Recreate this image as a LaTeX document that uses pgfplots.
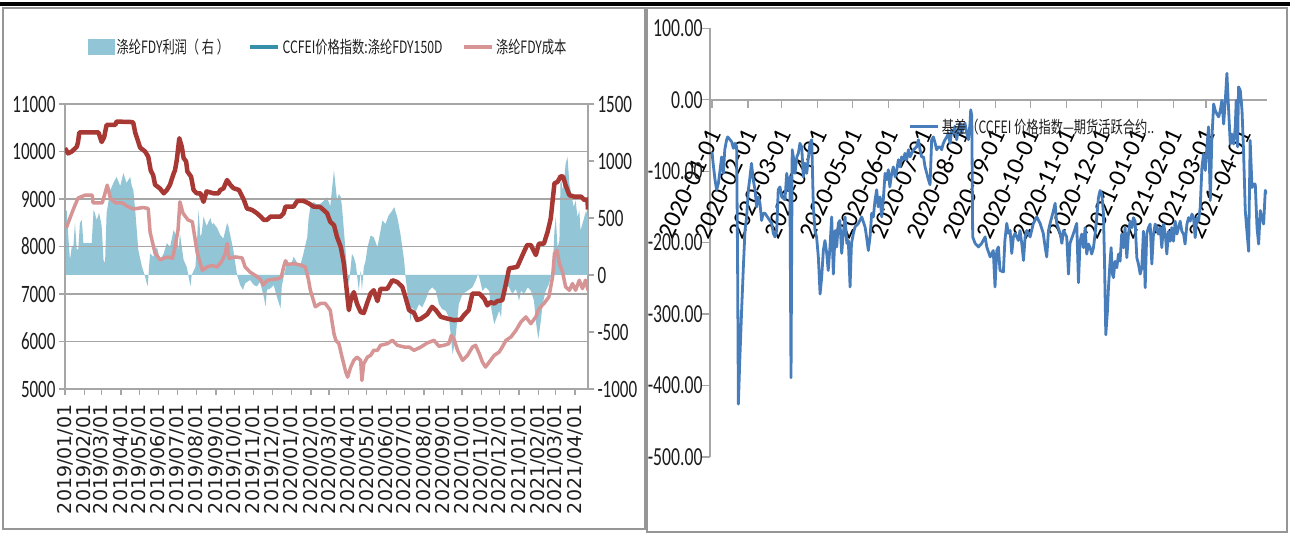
\documentclass[border=0pt]{standalone}
\usepackage{fontspec}
\usepackage{pgfplots}
\pgfplotsset{compat=1.18}
\newfontfamily\numfont{Carlito}[FakeStretch=0.68]
\newfontfamily\datefont{DejaVu Sans}
\newfontfamily\rdatefont{Carlito}
\newfontfamily\cjk{Noto Sans CJK SC}[FakeStretch=0.72]
\definecolor{areablue}{RGB}{146,197,214}
\definecolor{pricered}{RGB}{168,56,52}
\definecolor{costpink}{RGB}{214,148,148}
\definecolor{legteal}{RGB}{56,143,170}
\definecolor{basisblue}{RGB}{72,125,188}
\definecolor{gridgray}{RGB}{166,166,166}
\definecolor{framegray}{RGB}{150,150,150}
\definecolor{txt}{RGB}{30,30,30}
\pgfplotsset{
 rectlegend/.style={legend image code/.code={\fill[##1] (0pt,-7.5pt) rectangle (26pt,7.5pt);}},
 linelegend/.style={legend image code/.code={\draw[##1] (0pt,0pt) -- (28pt,0pt);}},
}
\begin{document}
\begin{tikzpicture}
\useasboundingbox (0pt,0pt) rectangle (1290pt,534pt);
\fill[white] (0pt,0pt) rectangle (1290pt,534pt);
\draw[black, line width=3.5pt] (0pt,530pt) -- (1290pt,530pt);
\draw[framegray, line width=1.5pt] (3pt,5pt) rectangle (645pt,526pt);
\draw[framegray, line width=1.5pt] (647pt,2pt) rectangle (1287pt,526pt);

% ---------- left chart: profit area (right axis)
\begin{axis}[
 at={(65pt,145pt)}, anchor=south west, scale only axis, width=523pt, height=285pt,
 xmin=0, xmax=842, ymin=-1000, ymax=1500,
 axis x line=none, axis y line*=right,
 ytick={-1000,-500,...,1500}, scaled y ticks=false,
 axis line style={-, draw=gridgray, line width=1.3pt},
 tick style={draw=gridgray, line width=1.2pt}, tick align=outside, major tick length=6pt,
 y tick label style={font=\numfont\fontsize{25}{28}\selectfont, text=txt},
 /pgf/number format/assume math mode=true,
 /pgf/number format/set thousands separator={},
]
\addplot[fill=areablue, draw=none] table[row sep=\\] {
d v\\
0 0\\0 544\\2.7 570\\5.4 333\\8 131\\10.8 245\\13.4 245\\16 456\\19 219\\21.5 230\\24 456\\27 482\\29.6 280\\43 280\\46 570\\48 544\\51 482\\55 544\\59 430\\62 131\\64.5 105\\67 544\\73 745\\78 807\\83 860\\89 780\\94 895\\99 807\\105 860\\107.5 780\\110 745\\113 570\\118 219\\124 70\\129 -15\\133 -100\\134.4 0\\137 190\\142 160\\148 245\\153 131\\159 190\\164 280\\169 245\\175 395\\180 333\\183 219\\185 365\\188 245\\191 131\\196 70\\199 -15\\202 -100\\204 0\\210 70\\212 245\\215 570\\218 333\\220 365\\223 512\\228 430\\234 500\\237 440\\239 456\\245 412\\250 350\\255 320\\261 456\\263 430\\266 350\\271 219\\277 0\\282 -88\\286.5 -130\\290 -73\\298 -44\\304 -88\\309 -100\\314 -60\\320 -190\\323 -278\\325 -130\\331 -117\\336 -88\\341 -190\\347 -292\\349 -100\\352 -15\\358 131\\363 70\\368 160\\374 105\\379 88\\384 190\\390 333\\392 482\\395 600\\400 640\\405 620\\411 624\\417 654\\422 683\\427 600\\433 917\\438 654\\441 712\\444 683\\446 595\\449 390\\452 185\\454 38\\457 -79\\460 67\\462 185\\465 155\\468 97\\470 9\\473 -138\\476 38\\478 -138\\481 67\\484 126\\487 243\\492 346\\497 331\\503 243\\508 390\\511 478\\516 448\\521 522\\527 566\\530 595\\535 507\\540 360\\546 126\\548 -6\\551 -138\\554 -284\\556 -402\\559 -284\\564 -328\\570 -255\\575 -284\\580 -226\\586 -138\\591 -108\\597 -138\\602 -255\\607 -299\\613 -314\\618 -372\\621 -519\\624 -695\\626 -636\\629 -533\\632 -372\\634 -255\\640 -167\\648 -138\\656 -108\\661 -50\\665 9\\667 -20\\672 -138\\677 -108\\683 -138\\685 -255\\691 -431\\693 -402\\699 -314\\702 -372\\704 -196\\710 -79\\715 -108\\720 -167\\726 -123\\731 -226\\734 -138\\739 -167\\745 -108\\750 -138\\755 -226\\758 -402\\762 -563\\766 -402\\769 -255\\774 -138\\779 -79\\785 38\\788 390\\790 507\\793 243\\796 302\\798 888\\801 742\\804 859\\806 976\\809 1035\\812 800\\814 742\\819 595\\822 654\\825 507\\828 566\\830 390\\833 448\\836 507\\839 566\\841 507\\842 536\\842 0\\
} -- cycle;
\end{axis}

% ---------- left chart: price and cost (left axis)
\begin{axis}[
 at={(65pt,145pt)}, anchor=south west, scale only axis, width=523pt, height=285pt,
 xmin=0, xmax=842, ymin=5000, ymax=11000,
 axis y line*=left, axis x line*=bottom,
 ytick={5000,6000,...,11000}, scaled y ticks=false,
 ymajorgrids, major grid style={draw=gridgray, line width=1.3pt},
 axis line style={-, draw=gridgray, line width=1.3pt},
 tick style={draw=gridgray, line width=1.2pt}, tick align=outside, major tick length=6pt,
 xtick={0,31,59,90,120,151,181,212,243,273,304,334,365,396,425,456,486,517,547,578,609,639,670,700,731,762,790,821},
 xticklabels={2019/01/01,2019/02/01,2019/03/01,2019/04/01,2019/05/01,2019/06/01,2019/07/01,2019/08/01,2019/09/01,2019/10/01,2019/11/01,2019/12/01,2020/01/01,2020/02/01,2020/03/01,2020/04/01,2020/05/01,2020/06/01,2020/07/01,2020/08/01,2020/09/01,2020/10/01,2020/11/01,2020/12/01,2021/01/01,2021/02/01,2021/03/01,2021/04/01},
 x tick label style={font=\datefont\fontsize{19}{19}\selectfont, text=txt, yshift=-6pt, rotate=90, anchor=east},
 y tick label style={font=\numfont\fontsize{25}{28}\selectfont, text=txt},
 /pgf/number format/assume math mode=true,
 /pgf/number format/set thousands separator={},
 legend columns=3,
 legend style={at={(0.044,1.2)}, anchor=west, draw=none, fill=none, inner sep=0pt,
   font=\cjk\fontsize{17}{20}\selectfont, text=txt,
   /tikz/every even column/.append style={column sep=17pt}},
]
\addlegendimage{areablue, rectlegend}
\addlegendentry{涤纶FDY利润（ 右 ）}
\addlegendimage{legteal, line width=4.5pt, linelegend}
\addlegendentry{CCFEI价格指数:涤纶FDY150D}
\addlegendimage{costpink, line width=4.5pt, linelegend}
\addlegendentry{涤纶FDY成本}
\addplot[forget plot, costpink, line width=3.5pt, line join=round] table[row sep=\\] {
d v\\
2 8390\\13 8770\\21 9020\\32 9080\\44 9080\\45 8920\\60 8920\\68 9290\\73 9020\\81 8920\\92 8920\\100 8850\\110 8790\\126 8820\\134 8800\\137 8300\\145 7860\\153 7720\\165 7780\\173 7750\\177 7990\\182 8350\\185 8940\\190 8700\\198 8560\\205 8520\\213 7860\\221 7500\\229 7570\\237 7600\\245 7570\\253 7700\\258 7850\\261 8060\\264 7750\\274 7780\\285 7760\\290 7570\\298 7460\\310 7360\\315 7300\\319 7190\\326 7290\\342 7320\\348 7350\\352 7570\\355 7700\\358 7620\\368 7640\\379 7610\\387 7570\\392 7300\\395 7080\\403 6730\\411 6800\\419 6800\\427 6660\\433 6165\\436 6025\\441 5954\\446 5673\\452 5357\\455 5250\\460 5462\\465 5603\\470 5673\\476 5603\\478 5180\\481 5533\\487 5673\\492 5708\\497 5814\\503 5814\\508 5920\\519 5954\\527 6025\\535 5920\\546 5884\\554 5884\\562 5814\\573 5884\\583 5968\\594 6025\\602 5900\\610 5920\\618 5954\\622 6130\\626 6060\\632 5814\\640 5603\\648 5708\\656 5884\\661 5920\\667 5743\\672 5568\\677 5462\\683 5568\\691 5708\\699 5778\\704 5884\\710 6025\\718 6095\\726 6235\\734 6411\\742 6517\\750 6376\\758 6517\\763 6692\\771 6798\\779 6938\\785 7360\\788 7851\\792 7922\\796 7640\\801 7465\\806 7149\\812 7079\\817 7219\\822 7079\\828 7290\\833 7114\\838 7290\\842 7079\\
};
\addplot[forget plot, pricered, line width=4.5pt, line join=round] table[row sep=\\] {
d v\\
0 10070\\5 9960\\11 10000\\19 10100\\21 10200\\23 10400\\54 10400\\59 10200\\63 10300\\67 10560\\81 10560\\83 10630\\108 10620\\110 10600\\113 10400\\121 10080\\129 10000\\134 9890\\138 9600\\142 9500\\145 9300\\153 9220\\159 9120\\164 9190\\169 9300\\175 9540\\177 9600\\180 9820\\184 10280\\188 10100\\191 9860\\195 9790\\197 9580\\203 9470\\207 9190\\212 9120\\218 9120\\223 8940\\228 9160\\239 9120\\247 9120\\250 9190\\255 9220\\261 9400\\266 9300\\271 9230\\280 9190\\288 8980\\293 8800\\301 8770\\309 8700\\315 8630\\320 8560\\325 8560\\331 8630\\347 8630\\352 8700\\355 8840\\368 8840\\374 8960\\384 8960\\392 8910\\400 8840\\411 8830\\422 8700\\427 8520\\433 8450\\438 8200\\444 7990\\449 7640\\453 7150\\457 6660\\460 6870\\465 7040\\470 6800\\476 6620\\481 6600\\487 6830\\492 7010\\497 7080\\503 6850\\508 7110\\519 7110\\527 7290\\535 7250\\543 7150\\548 6940\\554 6660\\562 6600\\567 6450\\573 6480\\583 6570\\591 6730\\597 6660\\605 6520\\616 6480\\626 6450\\637 6460\\642 6550\\650 6660\\656 7010\\667 7010\\675 6900\\680 6760\\685 6830\\691 6800\\696 6850\\704 6870\\710 7220\\715 7540\\728 7570\\739 7890\\744 8030\\750 8030\\758 7820\\763 8060\\771 8060\\777 8310\\782 8590\\788 9330\\793 9360\\798 9480\\802 9470\\806 9290\\812 9080\\820 9050\\831 9050\\836 8980\\841 8990\\842 8780\\
};
\end{axis}

% ---------- right chart: basis
\begin{axis}[
 at={(710pt,77pt)}, anchor=south west, scale only axis, width=557pt, height=428.7pt,
 xmin=-1.7, xmax=477.5, ymin=-500, ymax=100,
 axis x line=middle, axis y line=left,
 x axis line style={-, draw=gridgray, line width=2pt},
 y axis line style={-, draw=gridgray, line width=1.3pt},
 tick style={draw=gridgray, line width=1.2pt}, tick align=outside, major tick length=8pt,
 ytick={-500,-400,...,100},
 xtick={0,31,60,91,121,152,182,213,244,274,305,335,366,397,425,456},
 xticklabels={2020-01-01,2020-02-01,2020-03-01,2020-04-01,2020-05-01,2020-06-01,2020-07-01,2020-08-01,2020-09-01,2020-10-01,2020-11-01,2020-12-01,2021-01-01,2021-02-01,2021-03-01,2021-04-01},
 x tick label style={font=\rdatefont\fontsize{25}{26}\selectfont, text=black, xshift=4pt, yshift=-20pt, rotate=65, anchor=east},
 y tick label style={font=\numfont\fontsize{26}{28}\selectfont, text=txt, xshift=4pt},
 /pgf/number format/assume math mode=true,
 /pgf/number format/.cd, fixed, fixed zerofill, precision=2, /pgfplots/.cd,
 legend style={at={(0.357,0.77)}, anchor=west, draw=none, fill=none, inner sep=0pt,
   font=\cjk\fontsize{17}{20}\selectfont, text=txt},
]
\addplot[basisblue, line width=2.8pt, line join=round, linelegend] table[row sep=\\] {
d v\\
0 -73\\1 -89\\2.6 -112\\4 -126\\5.5 -117\\7 -98\\8.3 -80\\9.8 -103\\11 -70\\12.6 -56\\13.5 -52\\15.5 -56\\17 -59\\18.4 -68\\19.8 -61\\21.2 -66\\22 -220\\22.7 -426\\24 -361\\25.5 -295\\27 -234\\28.4 -183\\29.8 -164\\31.3 -126\\32.7 -108\\34 -89\\35.5 -112\\37 -126\\38.4 -150\\39.8 -136\\41.3 -145\\42.7 -169\\44 -159\\45.6 -159\\48.5 -166\\51.4 -173\\52.8 -187\\54.2 -192\\55.7 -183\\57 -126\\58.5 -122\\60 -136\\62.8 -140\\64.3 -103\\65.7 -126\\67 -108\\68 -389\\69 -70\\70 -80\\71.4 -103\\73 -80\\74.3 -75\\75.7 -61\\77.2 -66\\78.6 -108\\80 -89\\81.5 -103\\83 -80\\84.3 -61\\85.8 -56\\87.2 -150\\88.6 -183\\90 -192\\91.5 -220\\93 -272\\94.4 -248\\95.8 -211\\97.2 -197\\98.7 -215\\100 -239\\101.5 -206\\103 -164\\104.4 -244\\106 -183\\107.3 -206\\108.7 -173\\110 -169\\111.6 -215\\113 -187\\114.5 -164\\116 -201\\117.3 -197\\118.8 -262\\120 -201\\121.7 -187\\123 -178\\126 -173\\128.8 -164\\131.7 -178\\133 -192\\134.5 -211\\136 -192\\137.4 -159\\138.8 -164\\140.3 -140\\141.7 -126\\143 -150\\144.6 -136\\146 -164\\147.4 -140\\148.9 -103\\150.3 -112\\151.7 -98\\153 -122\\154.6 -103\\156 -94\\157.5 -108\\159 -98\\160.4 -84\\161.8 -94\\163.2 -80\\164.7 -84\\166 -75\\167.5 -84\\169 -70\\170.4 -80\\173.3 -70\\176 -66\\177.6 -56\\179 -70\\180.4 -80\\182 -80\\183.3 -94\\184.8 -103\\186.2 -112\\187.6 -119\\189 -56\\190.5 -52\\192 -61\\193.3 -70\\194.8 -66\\196.2 -66\\197.6 -70\\199 -61\\200.5 -56\\202 -52\\203.4 -47\\204.8 -61\\206.3 -42\\207.7 -47\\209 -37\\210.5 -56\\212 -42\\213.4 -33\\214.9 -47\\216.3 -37\\217.7 -33\\219.2 -47\\220.6 -56\\222 -33\\222.6 -14\\223.5 -23\\224.3 -192\\226.4 -201\\229.2 -206\\232 -201\\235 -192\\236.4 -206\\239.3 -220\\242 -211\\243.5 -262\\245 -211\\246.4 -206\\247.8 -239\\250.7 -241\\252 -197\\253.6 -173\\255 -187\\256.5 -183\\257.9 -215\\259.3 -192\\260.8 -187\\263.6 -197\\265 -183\\266.5 -201\\268 -225\\269.4 -192\\270.8 -183\\273.7 -192\\276.5 -173\\279.4 -164\\282.3 -173\\285 -187\\286.6 -206\\288 -220\\289.5 -183\\290.9 -173\\293.8 -155\\295.2 -145\\296.6 -173\\299.5 -187\\301 -201\\302.4 -183\\305.2 -192\\306.7 -244\\308 -201\\311 -187\\313.8 -173\\315.3 -256\\316.7 -198\\318.1 -188\\319.6 -207\\321 -179\\322.4 -216\\323.9 -202\\325.3 -207\\326.7 -216\\328.2 -207\\329.6 -188\\331 -165\\332.5 -137\\333.9 -127\\335.4 -132\\336.8 -160\\337.7 -226\\338.8 -329\\340.2 -296\\341.1 -263\\342.5 -226\\343.4 -207\\344.5 -244\\345.4 -249\\346.8 -226\\348.3 -235\\349.7 -216\\351.1 -226\\352.5 -188\\354 -207\\355.4 -179\\356.9 -221\\358.3 -188\\359.7 -170\\361.2 -179\\362.6 -165\\364 -170\\365.5 -221\\366.9 -230\\368.4 -244\\369.8 -235\\371.2 -184\\372.7 -263\\374 -188\\375.5 -179\\377 -174\\378.4 -230\\379.8 -188\\381.3 -174\\382.7 -179\\384 -188\\385.6 -179\\387 -207\\388.5 -174\\390 -188\\391.3 -216\\392.8 -184\\394.2 -198\\395.6 -179\\397 -198\\398.5 -170\\400 -188\\401.4 -179\\402.8 -170\\404.2 -184\\405.7 -188\\407 -202\\408.6 -174\\410 -165\\411.4 -170\\412.9 -160\\414.3 -165\\415.7 -193\\417.2 -165\\418.6 -170\\420 -151\\421.5 -95\\422.9 -76\\424.4 -99\\425.8 -66\\427.2 -38\\428.7 -141\\430 -57\\431.6 -6\\433 -15\\434.4 -20\\435.9 -24\\437.3 -15\\438.7 -1\\440.2 -34\\441.6 -1\\443 37\\444.5 -15\\445.9 -62\\447.3 -48\\448.8 -62\\450.2 -38\\451 -1\\452.2 -66\\453 18\\454.5 13\\456 -15\\457.4 -76\\458.8 -155\\460.2 -184\\461.7 -212\\463 -57\\464.6 -123\\466 -118\\467.4 -118\\468.9 -179\\470.3 -202\\471.7 -155\\473.2 -165\\474.6 -174\\476 -127\\477.5 -132\\
};
\addlegendentry{基差（CCFEI 价格指数—期货活跃合约..}
\end{axis}
\end{tikzpicture}
\end{document}
